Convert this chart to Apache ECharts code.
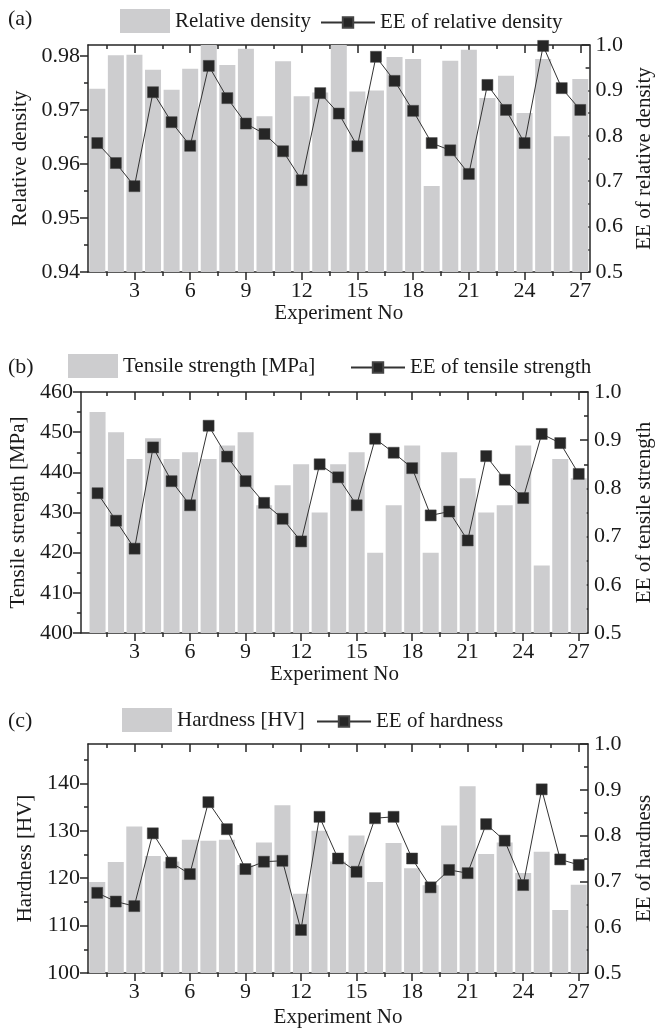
<!DOCTYPE html>
<html><head><meta charset="utf-8">
<script src="https://cdn.jsdelivr.net/npm/echarts@6/dist/echarts.min.js"></script>
<style>html,body{margin:0;padding:0;background:#fff}#c{width:663px;height:1029px}</style>
</head><body><div id="c"></div>
<script>
// ---------- data ----------
const experiments = [1,2,3,4,5,6,7,8,9,10,11,12,13,14,15,16,17,18,19,20,21,22,23,24,25,26,27];
const relDensity = [0.9739,0.9801,0.9802,0.9774,0.9737,0.9776,0.9830,0.9783,0.9813,0.9688,0.9790,0.9725,0.9732,0.9830,0.9734,0.9736,0.9798,0.9794,0.9559,0.9791,0.9811,0.9722,0.9763,0.9694,0.9794,0.9651,0.9757];
const eeRelDensity = [0.784,0.740,0.689,0.896,0.830,0.778,0.954,0.883,0.827,0.804,0.766,0.702,0.894,0.849,0.777,0.974,0.921,0.855,0.784,0.768,0.716,0.912,0.857,0.784,0.998,0.905,0.857];
const tensile = [455,450,443.3,448.5,443.3,445,443.3,446.7,450,431.8,436.8,442,430,442,445,420,431.8,446.7,420,445,438.5,430,431.8,446.7,416.8,443.3,438.5];
const eeTensile = [0.790,0.733,0.675,0.885,0.815,0.765,0.930,0.866,0.815,0.770,0.737,0.690,0.850,0.823,0.765,0.903,0.874,0.842,0.744,0.752,0.692,0.867,0.818,0.780,0.913,0.894,0.830];
const hardness = [119.2,123.4,130.9,124.7,123.5,128.1,127.9,128.1,122.8,127.5,135.4,116.7,130,123.5,129,119.2,127.4,122.1,118.5,131.1,139.4,125.1,127.5,121.1,125.6,113.3,118.6];
const eeHardness = [0.675,0.656,0.646,0.805,0.741,0.716,0.873,0.814,0.727,0.743,0.745,0.594,0.841,0.750,0.721,0.838,0.841,0.750,0.687,0.725,0.718,0.825,0.789,0.692,0.901,0.748,0.736];

const xTickLabels = [3,6,9,12,15,18,21,24,27];
const xMinorTicks = [1.5,4.5,7.5,10.5,13.5,16.5,19.5,22.5,25.5];
const densityTicks = [0.94,0.95,0.96,0.97,0.98];
const densityMinor = [0.945,0.955,0.965,0.975];
const tensileTicks = [400,410,420,430,440,450,460];
const tensileMinor = [405,415,425,435,445,455];
const hardnessTicks = [100,110,120,130,140];
const hardnessMinor = [105,115,125,135,145];
const eeTicks = [0.5,0.6,0.7,0.8,0.9,1.0];
const eeMinor = [0.55,0.65,0.75,0.85,0.95];

const panelTags = ['(a)','(b)','(c)'];
const barNames = ['Relative density','Tensile strength [MPa]','Hardness [HV]'];
const lineNames = ['EE of relative density','EE of tensile strength','EE of hardness'];
const leftNames = ['Relative density','Tensile strength [MPa]','Hardness [HV]'];
const rightNames = ['EE of relative density','EE of tensile strength','EE of hardness'];
const xName = 'Experiment No';

// ---------- layout / style ----------
const FONT = 'Liberation Serif';
const INK = '#262626';
const BAR = '#cdcdcf';
const layout = [
  {left:88, right:69, top:45, height:227, xMin:0.5, yMin:0.94, yMax:0.982, ticks:densityTicks, minor:densityMinor, dec:2,
   bars:relDensity, line:eeRelDensity, legTop:9, barLeg:120, lineLeg:320, tagTop:8, xGap:22, lGap:50, rGap:44},
  {left:78, right:66, top:392, height:241, xMin:0.1, yMin:400, yMax:460, ticks:tensileTicks, minor:tensileMinor, dec:0,
   bars:tensile, line:eeTensile, legTop:354, barLeg:68, lineLeg:350, tagTop:356, xGap:24, lGap:50, rGap:46},
  {left:88, right:69, top:744, height:229, xMin:0.5, yMin:100, yMax:148.3, ticks:hardnessTicks, minor:hardnessMinor, dec:0,
   bars:hardness, line:eeHardness, legTop:708, barLeg:122, lineLeg:316, tagTop:710, xGap:34, lGap:52, rGap:46}
];

const line = {color:INK, width:1.5};
const txt = (s) => ({fontFamily:FONT, fontSize:s, color:'#1a1a1a'});

const grid = [], xAxis = [], yAxis = [], series = [], legend = [], graphic = [];

layout.forEach((p, i) => {
  grid.push({left:p.left, right:p.right, top:p.top, height:p.height});
  const xb = xAxis.length, yb = yAxis.length;
  const xc = {type:'value', gridIndex:i, min:p.xMin, max:27.5, splitLine:{show:false}};
  xAxis.push(Object.assign({}, xc, {position:'bottom', name:xName, nameLocation:'middle', nameGap:p.xGap,
    nameTextStyle:txt(21),
    axisLine:{show:true, onZero:false, lineStyle:line},
    axisTick:{show:true, inside:false, length:8, customValues:xTickLabels, lineStyle:line},
    axisLabel:{show:true, customValues:xTickLabels, margin:8, ...txt(22)}}));
  xAxis.push(Object.assign({}, xc, {position:'bottom', axisLine:{show:false, onZero:false},
    axisTick:{show:true, inside:false, length:4, customValues:xMinorTicks, lineStyle:line}, axisLabel:{show:false}}));
  xAxis.push(Object.assign({}, xc, {position:'top', axisLine:{show:true, onZero:false, lineStyle:line},
    axisTick:{show:true, inside:true, length:8, customValues:xTickLabels, lineStyle:line}, axisLabel:{show:false}}));
  xAxis.push(Object.assign({}, xc, {position:'top', axisLine:{show:false, onZero:false},
    axisTick:{show:true, inside:true, length:4, customValues:xMinorTicks, lineStyle:line}, axisLabel:{show:false}}));

  const yl = {type:'value', gridIndex:i, min:p.yMin, max:p.yMax, splitLine:{show:false}};
  yAxis.push(Object.assign({}, yl, {position:'left', name:leftNames[i], nameLocation:'middle', nameRotate:90, nameGap:p.lGap,
    nameTextStyle:txt(21),
    axisLine:{show:true, onZero:false, lineStyle:line},
    axisTick:{show:true, inside:false, length:8, customValues:p.ticks, lineStyle:line},
    axisLabel:{show:true, customValues:p.ticks, margin:8, formatter:(v)=>Number(v).toFixed(p.dec), ...txt(22)}}));
  yAxis.push(Object.assign({}, yl, {position:'left', axisLine:{show:false, onZero:false},
    axisTick:{show:true, inside:false, length:4, customValues:p.minor, lineStyle:line}, axisLabel:{show:false}}));
  const yr = {type:'value', gridIndex:i, min:0.5, max:1.0, splitLine:{show:false}};
  yAxis.push(Object.assign({}, yr, {position:'right', name:rightNames[i], nameLocation:'middle', nameRotate:90, nameGap:p.rGap,
    nameTextStyle:txt(21),
    axisLine:{show:true, onZero:false, lineStyle:line},
    axisTick:{show:true, inside:true, length:8, customValues:eeTicks, lineStyle:line},
    axisLabel:{show:true, customValues:eeTicks, margin:6, formatter:(v)=>Number(v).toFixed(1), ...txt(22)}}));
  yAxis.push(Object.assign({}, yr, {position:'right', axisLine:{show:false, onZero:false},
    axisTick:{show:true, inside:true, length:4, customValues:eeMinor, lineStyle:line}, axisLabel:{show:false}}));

  series.push({type:'bar', name:barNames[i], xAxisIndex:xb, yAxisIndex:yb, barWidth:16, clip:true,
    itemStyle:{color:BAR}, data:experiments.map((e, k) => [e, p.bars[k]]), z:2, silent:true});
  series.push({type:'line', name:lineNames[i], xAxisIndex:xb, yAxisIndex:yb+2, symbol:'rect', symbolSize:11,
    lineStyle:{color:'#333', width:1}, itemStyle:{color:INK, borderColor:'#444', borderWidth:0.5},
    data:experiments.map((e, k) => [e, p.line[k]]), z:5, silent:true});

  legend.push({data:[barNames[i]], left:p.barLeg, top:p.legTop, itemWidth:50, itemHeight:24, icon:'rect',
    selectedMode:false, textStyle:txt(21), padding:0});
  legend.push({data:[lineNames[i]], left:p.lineLeg, top:p.legTop + 3, itemWidth:54, itemHeight:13,
    selectedMode:false, textStyle:txt(21), padding:0});
  graphic.push({type:'text', left:8, top:p.tagTop, style:{text:panelTags[i], font:'22px "Liberation Serif"', fill:'#1a1a1a'}});
});

const chart = echarts.init(document.getElementById('c'), null, {renderer:'canvas'});
chart.setOption({animation:false, backgroundColor:'#fff', grid, xAxis, yAxis, series, legend, graphic});
</script></body></html>
